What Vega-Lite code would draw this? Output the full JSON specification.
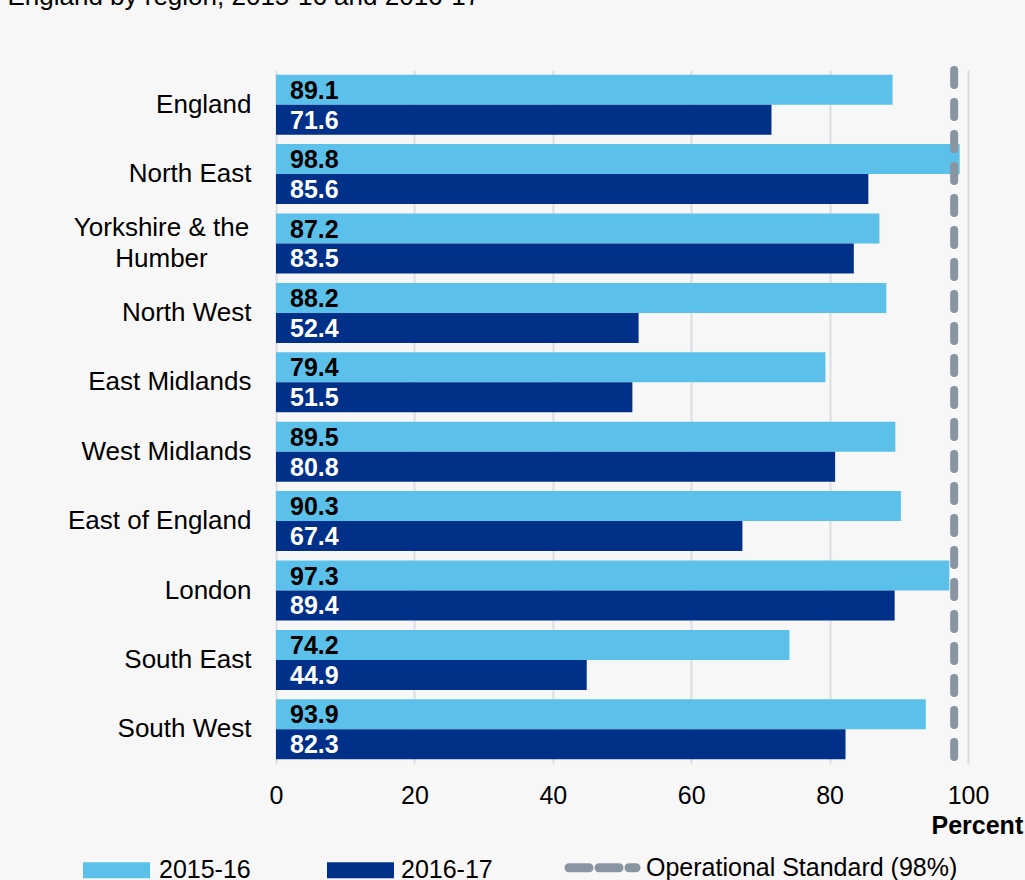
{
  "$schema": "https://vega.github.io/schema/vega-lite/v6.json",
  "autosize": "none",
  "width": 692,
  "height": 694,
  "padding": {"left": 276, "top": 70, "right": 57, "bottom": 116},
  "background": "#f7f7f7",
  "config": {
    "font": "Liberation Sans",
    "view": {"stroke": null}
  },
  "title": {
    "text": "England by region, 2015-16 and 2016-17",
    "anchor": "start",
    "fontSize": 26,
    "fontWeight": "normal",
    "color": "#000000",
    "font": "Liberation Sans",
    "dx": -60,
    "dy": -52
  },
  "layer": [
    {
      "data": {
        "values": [
          {"region": "England", "year": "2015-16", "value": 89.1},
          {"region": "England", "year": "2016-17", "value": 71.6},
          {"region": "North East", "year": "2015-16", "value": 98.8},
          {"region": "North East", "year": "2016-17", "value": 85.6},
          {"region": "Yorkshire & the Humber", "year": "2015-16", "value": 87.2},
          {"region": "Yorkshire & the Humber", "year": "2016-17", "value": 83.5},
          {"region": "North West", "year": "2015-16", "value": 88.2},
          {"region": "North West", "year": "2016-17", "value": 52.4},
          {"region": "East Midlands", "year": "2015-16", "value": 79.4},
          {"region": "East Midlands", "year": "2016-17", "value": 51.5},
          {"region": "West Midlands", "year": "2015-16", "value": 89.5},
          {"region": "West Midlands", "year": "2016-17", "value": 80.8},
          {"region": "East of England", "year": "2015-16", "value": 90.3},
          {"region": "East of England", "year": "2016-17", "value": 67.4},
          {"region": "London", "year": "2015-16", "value": 97.3},
          {"region": "London", "year": "2016-17", "value": 89.4},
          {"region": "South East", "year": "2015-16", "value": 74.2},
          {"region": "South East", "year": "2016-17", "value": 44.9},
          {"region": "South West", "year": "2015-16", "value": 93.9},
          {"region": "South West", "year": "2016-17", "value": 82.3}
        ]
      },
      "encoding": {
        "y": {
          "field": "region",
          "type": "nominal",
          "sort": null,
          "scale": {"paddingInner": 0.136, "paddingOuter": 0.068},
          "axis": {
            "title": null,
            "domain": false,
            "ticks": false,
            "labelFontSize": 26,
            "labelColor": "#000000",
            "labelLimit": 400,
            "labelLineHeight": 31,
            "labelExpr": "datum.value === 'Yorkshire & the Humber' ? ['Yorkshire & the', 'Humber'] : datum.value",
            "labelAlign": {"condition": {"test": "datum.value === 'Yorkshire & the Humber'", "value": "center"}, "value": "right"},
            "labelPadding": {"condition": {"test": "datum.value === 'Yorkshire & the Humber'", "value": 115}, "value": 25},
            "labelOffset": {"condition": {"test": "datum.value === 'Yorkshire & the Humber'", "value": -15.5}, "value": 0}
          }
        },
        "yOffset": {"field": "year", "type": "nominal", "sort": ["2015-16", "2016-17"]}
      },
      "layer": [
        {
          "mark": {"type": "bar"},
          "encoding": {
            "x": {
              "field": "value",
              "type": "quantitative",
              "scale": {"domain": [0, 100], "nice": false},
              "axis": {
                "title": "Percent",
                "titleFontSize": 25,
                "titleFontWeight": "bold",
                "titleColor": "#000000",
                "titleX": 655,
                "titleY": 69,
                "titleAlign": "left",
                "titleBaseline": "alphabetic",
                "values": [0, 20, 40, 60, 80, 100],
                "domain": false,
                "ticks": false,
                "labelFontSize": 25,
                "labelColor": "#000000",
                "labelPadding": 19,
                "labelFlush": false,
                "grid": true,
                "gridColor": "#dcdde0",
                "gridWidth": 2
              }
            },
            "color": {
              "field": "year",
              "type": "nominal",
              "scale": {
                "domain": ["2015-16", "2016-17", "Operational Standard (98%)"],
                "range": ["#5cc1ea", "#003087", "#8a95a2"]
              },
              "legend": {
                "orient": "none",
                "legendX": -193,
                "legendY": 785,
                "direction": "horizontal",
                "columns": 3,
                "title": null,
                "padding": 0,
                "labelFontSize": 25,
                "labelColor": "#000000",
                "labelLimit": 500,
                "columnPadding": 58,
                "symbolStrokeWidth": 0,
                "symbolOpacity": 1,
                "encode": {
                  "symbols": {
                    "update": {
                      "x": {"signal": "datum.value === 'Operational Standard (98%)' ? 19.5 : (datum.value === '2016-17' ? 37.5 : 33.5)"},
                      "size": {"value": 4489},
                      "shape": {"signal": "datum.value === 'Operational Standard (98%)' ? 'M-1,0H1' : (datum.value === '2015-16' ? 'M-1,-0.24H1V0.24H-1ZM4.42,0' : 'M-1,-0.24H1V0.24H-1Z')"},
                      "fill": {"signal": "datum.value === 'Operational Standard (98%)' ? 'transparent' : (datum.value === '2015-16' ? '#5cc1ea' : '#003087')"},
                      "stroke": {"signal": "datum.value === 'Operational Standard (98%)' ? '#8a95a2' : 'transparent'"},
                      "strokeWidth": {"signal": "datum.value === 'Operational Standard (98%)' ? 9 : 0"},
                      "strokeDash": {"signal": "datum.value === 'Operational Standard (98%)' ? [20, 10] : []"},
                      "strokeCap": {"value": "round"}
                    }
                  },
                  "labels": {
                    "update": {
                      "x": {"signal": "datum.value === 'Operational Standard (98%)' ? 63 : (datum.value === '2016-17' ? 78 : 76)"}
                    }
                  }
                }
              }
            }
          }
        },
        {
          "mark": {"type": "text", "align": "left", "baseline": "middle", "dx": 14, "dy": 1, "fontSize": 25, "fontWeight": "bold"},
          "encoding": {
            "x": {"datum": 0, "type": "quantitative"},
            "text": {"field": "value", "type": "quantitative", "format": ".1f"},
            "color": {
              "condition": {"test": "datum.year === '2015-16'", "value": "#000000"},
              "value": "#ffffff"
            }
          }
        }
      ]
    },
    {
      "data": {"values": [{"standard": 98, "series": "Operational Standard (98%)"}]},
      "mark": {"type": "rule", "strokeWidth": 8, "strokeDash": [15, 17], "strokeCap": "round"},
      "encoding": {
        "x": {"field": "standard", "type": "quantitative"},
        "color": {"field": "series", "type": "nominal"}
      }
    }
  ]
}
